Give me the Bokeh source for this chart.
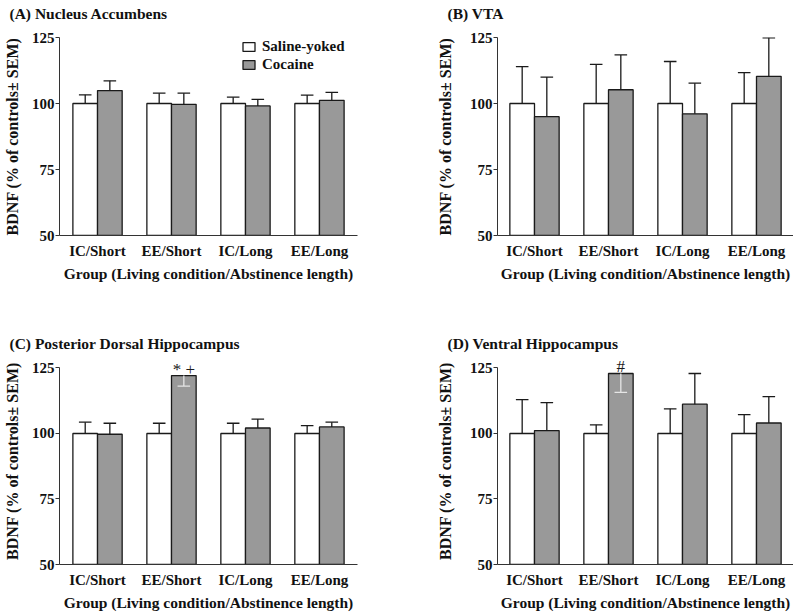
import numpy as np
from bokeh.plotting import figure
from bokeh.layouts import column, row
from bokeh.models import Range1d, FixedTicker, Label, Title
from bokeh.embed import file_html
from bokeh.resources import INLINE

groups = ["IC/Short", "EE/Short", "IC/Long", "EE/Long"]

# (A) Nucleus Accumbens
a_saline = [100, 100, 100, 100]
a_saline_sem = [3.3, 3.9, 2.4, 3.2]
a_cocaine = [104.9, 99.7, 99.1, 101.2]
a_cocaine_sem = [3.7, 4.2, 2.5, 3.0]

# (B) VTA
b_saline = [100, 100, 100, 100]
b_saline_sem = [14.0, 14.8, 15.9, 11.7]
b_cocaine = [95.0, 105.2, 96.1, 110.3]
b_cocaine_sem = [15.0, 13.2, 11.6, 14.6]

# (C) Posterior Dorsal Hippocampus
c_saline = [100, 100, 100, 100]
c_saline_sem = [4.3, 3.9, 3.9, 3.0]
c_cocaine = [99.7, 122.1, 102.1, 102.5]
c_cocaine_sem = [4.2, 4.0, 3.4, 1.8]
c_down = [False, True, False, False]
c_marks = ["", "* +", "", ""]

# (D) Ventral Hippocampus
d_saline = [100, 100, 100, 100]
d_saline_sem = [12.9, 3.3, 9.4, 7.2]
d_cocaine = [101.1, 122.9, 111.2, 104.0]
d_cocaine_sem = [10.7, 7.2, 11.7, 10.1]
d_down = [False, True, False, False]
d_marks = ["", "#", "", ""]

y_ticks = [50, 75, 100, 125]

FONT = "Liberation Serif"
GREY = "#999999"
EDGE = "#1a1a1a"
BW = 0.333
CAP = 0.085


def panel(title, sal, sal_sem, coc, coc_sem, down=None, marks=None,
          left=True, top_row=True, legend=False):
    if down is None:
        down = [False] * len(groups)
    if marks is None:
        marks = [""] * len(groups)
    if left:
        xr = Range1d(-0.514, 3.514)
        w, mb_l, mb_r = 400, 59, 43
        ylab_standoff = 8
    else:
        xr = Range1d(-0.5, 3.5)
        w, mb_l, mb_r = 393, 97, 0
        ylab_standoff = 13
    if top_row:
        h, mb_t, mb_b = 300, 37, 65
        yr = Range1d(50, 125)
        spacer = 12
    else:
        h, mb_t, mb_b = 313, 57, 46
        yr = Range1d(50, 129)
        spacer = 2
    p = figure(width=w, height=h, x_range=xr, y_range=yr,
               output_backend="svg", toolbar_location=None,
               min_border_left=mb_l, min_border_right=mb_r,
               min_border_top=mb_t, min_border_bottom=mb_b)
    p.outline_line_color = None
    p.xgrid.visible = False
    p.ygrid.visible = False

    idx = np.arange(len(groups))
    xs = idx - BW / 2
    xc = idx + BW / 2

    kw_s = dict(legend_label="Saline-yoked") if legend else {}
    kw_c = dict(legend_label="Cocaine") if legend else {}
    p.vbar(x=xs, top=sal, bottom=50, width=BW, fill_color="white",
           line_color=EDGE, line_width=1.3, **kw_s)
    p.vbar(x=xc, top=coc, bottom=50, width=BW, fill_color=GREY,
           line_color=EDGE, line_width=1.3, **kw_c)

    # error bars (SEM)
    sal = np.array(sal, float)
    coc = np.array(coc, float)
    s_end = sal + np.array(sal_sem)
    sign = np.where(np.array(down), -1.0, 1.0)
    c_end = coc + sign * np.array(coc_sem)
    c_col = ["#e6e6e6" if d else EDGE for d in down]
    p.segment(x0=xs, y0=sal, x1=xs, y1=s_end, line_color=EDGE, line_width=1.3)
    p.segment(x0=xs - CAP, y0=s_end, x1=xs + CAP, y1=s_end,
              line_color=EDGE, line_width=1.3)
    p.segment(x0=xc, y0=coc, x1=xc, y1=c_end, line_color=c_col, line_width=1.3)
    p.segment(x0=xc - CAP, y0=c_end, x1=xc + CAP, y1=c_end,
              line_color=c_col, line_width=1.3)

    for i, m in enumerate(marks):
        if m:
            p.add_layout(Label(x=xc[i], y=coc[i] + 2.5, text=m,
                               text_align="center", text_baseline="middle",
                               text_font=FONT, text_font_size="17px",
                               text_color="#1a1a1a"))

    # axes
    for ax in (p.xaxis[0], p.yaxis[0]):
        ax.axis_line_color = "#333333"
        ax.axis_line_width = 1
        ax.minor_tick_line_color = None
        ax.major_label_text_font = FONT
        ax.major_label_text_font_style = "bold"
        ax.major_label_text_font_size = "15px"
        ax.major_label_text_color = "#111111"
        ax.axis_label_text_font = FONT
        ax.axis_label_text_font_style = "bold"
        ax.axis_label_text_color = "#111111"

    p.xaxis.ticker = FixedTicker(ticks=list(range(len(groups))))
    p.xaxis.major_label_overrides = {i: g for i, g in enumerate(groups)}
    p.xaxis.major_tick_line_color = None
    p.xaxis.major_label_standoff = 1
    p.xaxis.axis_label = "Group (Living condition/Abstinence length)"
    p.xaxis.axis_label_text_font_size = "15.5px"
    p.xaxis.axis_label_standoff = 3

    p.yaxis.ticker = FixedTicker(ticks=y_ticks)
    p.yaxis.bounds = (50, 125)
    p.yaxis.major_tick_out = 4
    p.yaxis.major_tick_in = 0
    p.yaxis.major_tick_line_color = "#333333"
    p.yaxis.major_label_standoff = 1
    p.yaxis.axis_label = "BDNF (% of controls\u00b1 SEM)"
    p.yaxis.axis_label_text_font_size = "16px"
    p.yaxis.axis_label_standoff = ylab_standoff

    # spacer title (closest to the frame), then the real panel title
    p.title = None
    p.add_layout(Title(text=" ", text_font_size="2px", standoff=spacer),
                 "above")
    p.add_layout(Title(text=title, text_font=FONT, text_font_style="bold",
                       text_font_size="15.5px", text_color="#111111",
                       align="left", offset=-50, standoff=0), "above")

    if legend:
        lg = p.legend[0]
        lg.location = (182, 162)
        lg.border_line_color = None
        lg.background_fill_color = None
        lg.label_text_font = FONT
        lg.label_text_font_style = "bold"
        lg.label_text_font_size = "15px"
        lg.label_text_color = "#111111"
        lg.glyph_width = 15
        lg.glyph_height = 11
        lg.label_standoff = 6
        lg.label_height = 18
        lg.spacing = 0
        lg.padding = 0
        lg.margin = 0
    return p


pa = panel("(A) Nucleus Accumbens", a_saline, a_saline_sem, a_cocaine,
           a_cocaine_sem, left=True, top_row=True, legend=True)
pb = panel("(B) VTA", b_saline, b_saline_sem, b_cocaine, b_cocaine_sem,
           left=False, top_row=True)
pc = panel("(C) Posterior Dorsal Hippocampus", c_saline, c_saline_sem,
           c_cocaine, c_cocaine_sem, down=c_down, marks=c_marks,
           left=True, top_row=False)
pd = panel("(D) Ventral Hippocampus", d_saline, d_saline_sem, d_cocaine,
           d_cocaine_sem, down=d_down, marks=d_marks, left=False, top_row=False)

layout = column(row(pa, pb), row(pc, pd))
open("out.html", "w").write(file_html(layout, INLINE))
